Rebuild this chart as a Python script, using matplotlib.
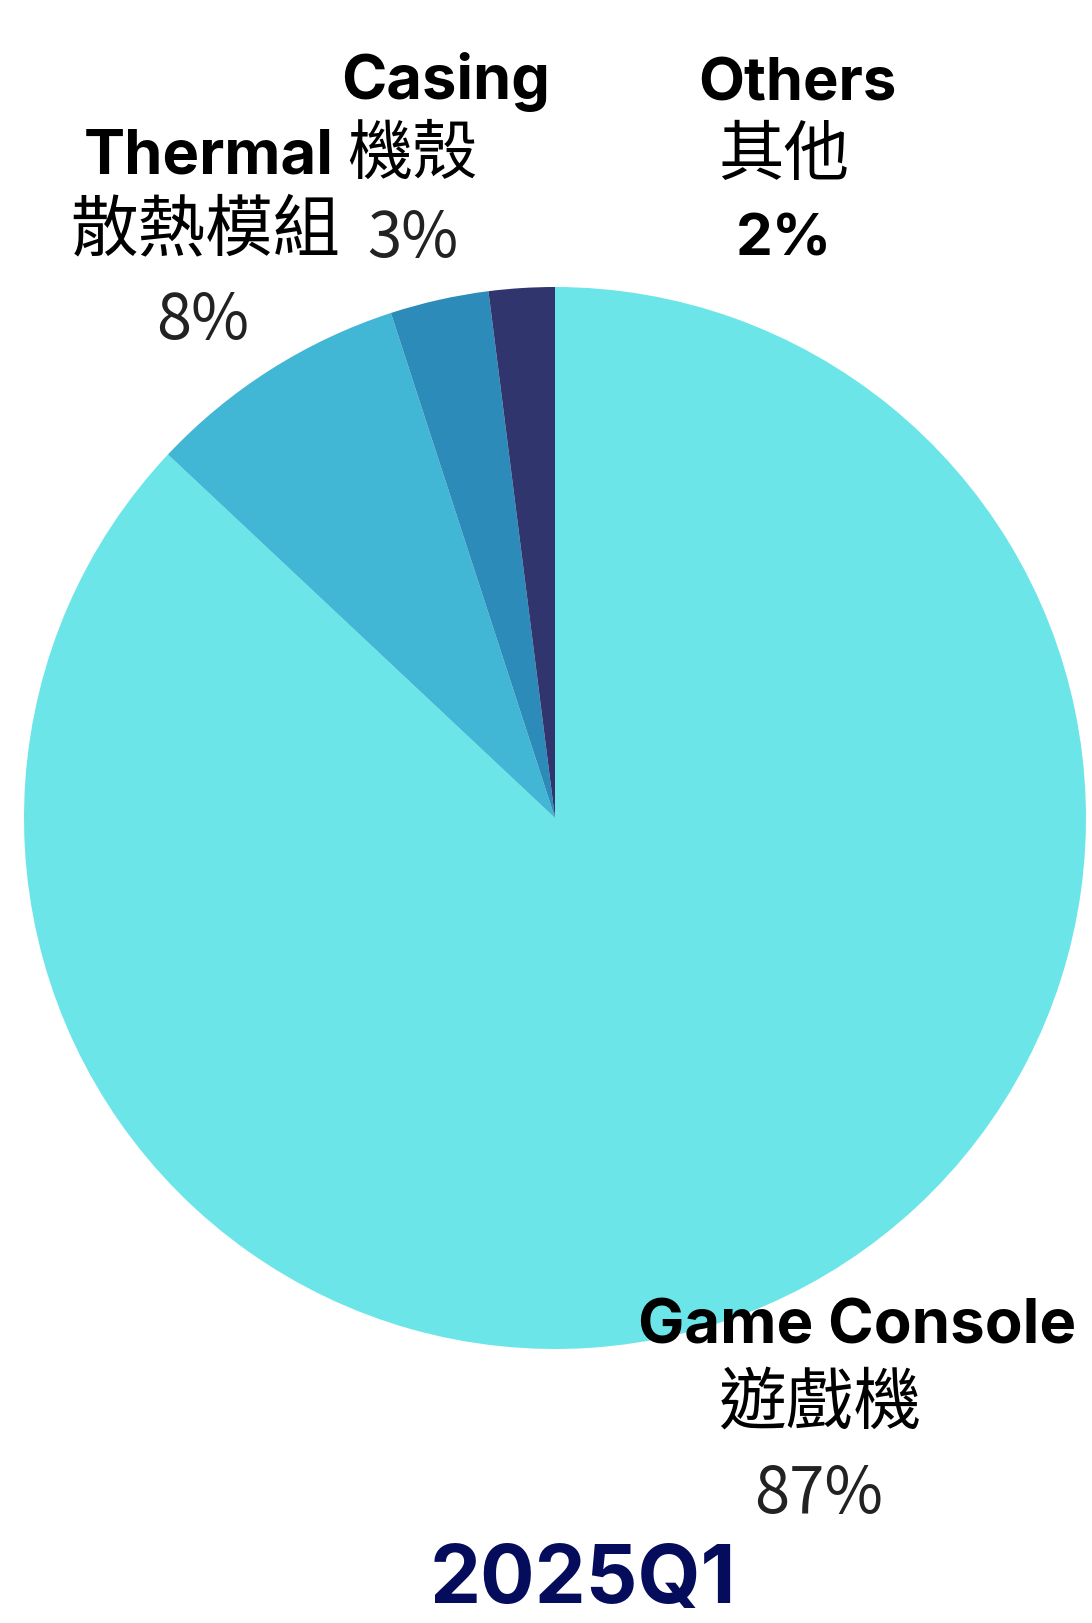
import matplotlib
matplotlib.use("Agg")
import matplotlib.pyplot as plt

# 2025Q1 revenue mix
categories = ["Game Console", "Thermal", "Casing", "Others"]
names_zh = ["遊戲機", "散熱模組", "機殼", "其他"]
shares = [87, 8, 3, 2]
colors = ["#6CE5E8", "#42B7D5", "#2D8BBA", "#31356E"]
period = "2025Q1"

W, H = 1092, 1623
fig = plt.figure(figsize=(W/100, H/100), dpi=100)

# pie: center ~ (555, 818) px, radius ~531 px
cx, cy, r = 555, 818, 531
ax = fig.add_axes([(cx-r)/W, (H-cy-r)/H, 2*r/W, 2*r/H])
ax.pie(shares, colors=colors, startangle=90, counterclock=False,
       wedgeprops=dict(linewidth=0))
ax.set_xlim(-1, 1)
ax.set_ylim(-1, 1)
ax.set_aspect("equal")
ax.axis("off")

renderer = fig.canvas.get_renderer()
EN = ["Inter", "DejaVu Sans"]
ZH = ["Noto Sans CJK TC", "DejaVu Sans"]


def put(s, x, y, width, family, weight="normal", color="black"):
    # place text centred at pixel (x, y from top) and scale to width
    t = fig.text(x/W, 1-y/H, s, ha="center", va="center",
                 family=family, weight=weight, color=color, fontsize=40)
    w = t.get_window_extent(renderer).width
    t.set_fontsize(40*width/w)
    return t


# Casing
put(categories[2], 446, 82, 209, EN, "bold")
put(names_zh[2], 412, 156, 130, ZH)
put(f"{shares[2]}%", 413, 239, 91, ZH, color="#222222")
# Thermal
put(categories[1], 209, 157, 250, EN, "bold")
put(names_zh[1], 205, 231, 270, ZH)
put(f"{shares[1]}%", 203, 321, 93, ZH, color="#222222")
# Others
put(categories[3], 797, 85, 198, EN, "bold")
put(names_zh[3], 784, 156, 131, ZH)
put(f"{shares[3]}%", 784, 240, 96, EN, "bold")
# Game Console
put(categories[0], 857, 1328, 438, EN, "bold")
put(names_zh[0], 820, 1405, 203, ZH)
put(f"{shares[0]}%", 819, 1495, 129, ZH, color="#222222")

put(period, 583, 1582, 306, EN, "bold", color="#050C5C")

fig.savefig("out.png", dpi=100)
